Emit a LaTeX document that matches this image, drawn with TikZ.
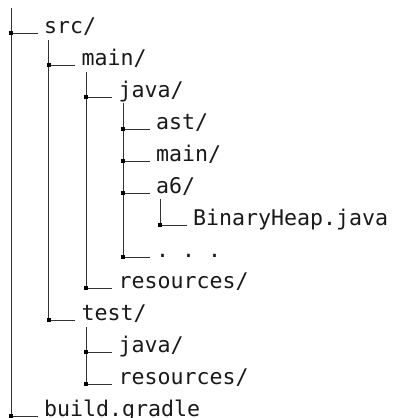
\documentclass[tikz,border=0pt]{standalone}
\usepackage{fontspec}
\setmonofont{DejaVu Sans Mono}
\begin{document}
\begin{tikzpicture}[x=1pt,y=-1pt,
  item/.style={anchor=base west,inner sep=0pt,outer xsep=6.5pt,outer ysep=0pt,
    font=\ttfamily\fontsize{21.6pt}{24pt}\selectfont,text=black!90},
  tline/.style={line width=1pt,black!80},
  jdot/.style={minimum size=4pt,inner sep=0pt,outer sep=0pt}]
\useasboundingbox (0,0) rectangle (393,418);
% junctions
\coordinate (top) at (11,8);
\node[jdot] (jsrc) at (11,33) {};
\node[jdot] (jmain) at (48.5,65) {};
\node[jdot] (jjava) at (86,97) {};
\node[jdot] (jast) at (123,129) {};
\node[jdot] (jmain2) at (123,161) {};
\node[jdot] (ja6) at (123,193) {};
\node[jdot] (jbh) at (160,225) {};
\node[jdot] (jdots) at (123,257) {};
\node[jdot] (jres) at (86,288) {};
\node[jdot] (jtest) at (48.5,320) {};
\node[jdot] (jtjava) at (86,352) {};
\node[jdot] (jtres) at (86,384) {};
\node[jdot] (jbuild) at (11,416) {};
% texts
\node[item] (src) at (37.5,33) {src/};
\node[item] (main) at (75,65) {main/};
\node[item] (java) at (112,97) {java/};
\node[item] (ast) at (149.5,129) {ast/};
\node[item] (main2) at (149.5,161) {main/};
\node[item] (a6) at (149.5,193) {a6/};
\node[item] (bh) at (186.5,225) {BinaryHeap.java};
\node[item] (dots) at (149.5,257) {. . .};
\node[item] (res) at (112,288) {resources/};
\node[item] (test) at (75,320) {test/};
\node[item] (tjava) at (112,352) {java/};
\node[item] (tres) at (112,384) {resources/};
\node[item] (build) at (37.5,416) {build.gradle};
% vertical lines
\draw[tline] (top) -- (jbuild.center);
\draw[tline] ([yshift=-7pt]jmain |- src.base) -- (jtest.center);
\draw[tline] ([yshift=-7pt]jjava |- main.base) -- (jres.center);
\draw[tline] ([yshift=-6pt]jast |- java.base) -- (jdots.center);
\draw[tline] ([yshift=-6pt]jbh |- a6.base) -- (jbh.center);
\draw[tline] ([yshift=-7pt]jtjava |- test.base) -- (jtres.center);
% horizontal lines
\foreach \j/\n in {jsrc/src,jmain/main,jjava/java,jast/ast,jmain2/main2,ja6/a6,jbh/bh,jdots/dots,jres/res,jtest/test,jtjava/tjava,jtres/tres,jbuild/build}
  \draw[tline] (\j.center) -- (\n.base west);
% junction squares
\foreach \j in {jsrc,jmain,jjava,jast,jmain2,ja6,jbh,jdots,jres,jtest,jtjava,jtres,jbuild}
  \fill[black] (\j.south west) rectangle (\j.north east);
\end{tikzpicture}
\end{document}
